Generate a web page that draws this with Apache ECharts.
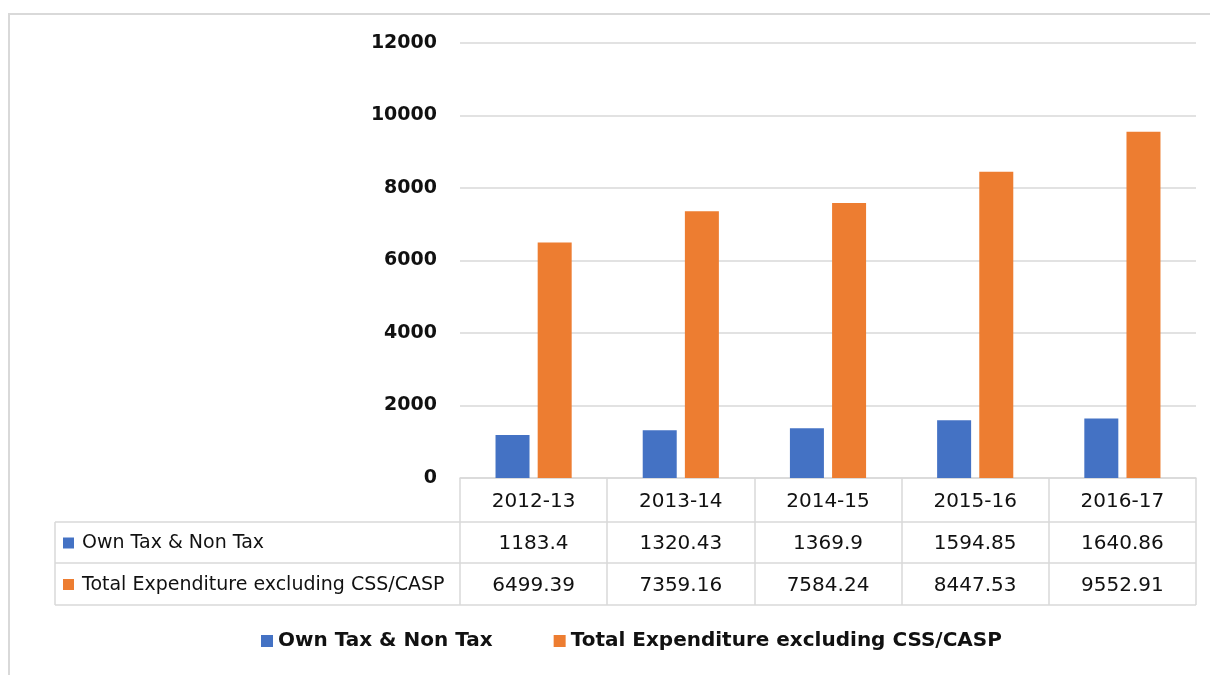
<!DOCTYPE html>
<html>
<head>
<meta charset="utf-8">
<title>Own Tax & Non Tax vs Total Expenditure</title>
<script src="https://cdn.jsdelivr.net/npm/echarts@6/dist/echarts.min.js"></script>
<style>
  html, body { margin: 0; padding: 0; background: #fff; }
  #chart { width: 1210px; height: 675px; }
</style>
</head>
<body>
<div id="chart"></div>
<script>
// data
var years = ['2012-13', '2013-14', '2014-15', '2015-16', '2016-17'];
var ownTax = [1183.4, 1320.43, 1369.9, 1594.85, 1640.86];
var totalExp = [6499.39, 7359.16, 7584.24, 8447.53, 9552.91];
var seriesNames = ['Own Tax & Non Tax', 'Total Expenditure excluding CSS/CASP'];
var colors = ['#4472C4', '#ED7D31'];

// layout
var gridLeft = 460, gridRight = 14, gridTop = 43, gridBottom = 197;
var axisY = 478, rowH = 42;
var rowsY = [522, 563, 605];
var tableLeft = 55;
var lineColor = '#d9d9d9';
var font = 'DejaVu Sans';

var myChart = echarts.init(document.getElementById('chart'));

// table lines + left column (legend keys)
var graphics = [
  { type: 'rect', shape: { x: 9, y: 14, width: 1400, height: 800 },
    style: { fill: 'none', stroke: lineColor, lineWidth: 2 }, silent: true }
];
rowsY.forEach(function (y) {
  graphics.push({ type: 'line', shape: { x1: tableLeft, y1: y, x2: 1196, y2: y },
    style: { stroke: lineColor, lineWidth: 1.5 }, silent: true });
});
graphics.push({ type: 'line', shape: { x1: tableLeft, y1: rowsY[0], x2: tableLeft, y2: rowsY[2] },
  style: { stroke: lineColor, lineWidth: 1.5 }, silent: true });
seriesNames.forEach(function (name, i) {
  var cy = (rowsY[i] + rowsY[i + 1]) / 2;
  graphics.push({ type: 'rect', shape: { x: 63, y: cy - 5, width: 11, height: 11 },
    style: { fill: colors[i] }, silent: true });
  graphics.push({ type: 'text', x: 82, y: cy + 1,
    style: { text: name, font: '19px "' + font + '"', fill: '#111', textVerticalAlign: 'middle' }, silent: true });
});

var option = {
  backgroundColor: '#fff',
  animation: false,
  color: colors,
  textStyle: { fontFamily: font },
  grid: { left: gridLeft, right: gridRight, top: gridTop, bottom: gridBottom },
  legend: {
    bottom: 19,
    left: 256,
    itemWidth: 12,
    itemHeight: 12,
    itemGap: 61,
    icon: 'rect',
    textStyle: { fontSize: 20, fontWeight: 'bold', color: '#111', fontFamily: font },
    data: seriesNames
  },
  xAxis: {
    type: 'category',
    data: years,
    axisLine: { show: true, lineStyle: { color: lineColor, width: 1.5 } },
    axisTick: { show: true, alignWithLabel: false, length: rowsY[2] - axisY,
      lineStyle: { color: lineColor, width: 1.5 } },
    axisLabel: {
      margin: 3,
      interval: 0,
      formatter: function (v, idx) {
        return v + '\n' + ownTax[idx] + '\n' + totalExp[idx];
      },
      lineHeight: rowH,
      fontSize: 20,
      color: '#111',
      fontFamily: font
    }
  },
  yAxis: {
    type: 'value',
    min: 0,
    max: 12000,
    interval: 2000,
    axisLine: { show: false },
    axisTick: { show: false },
    splitLine: { lineStyle: { color: lineColor, width: 1.5 } },
    axisLabel: { margin: 23, fontSize: 19, fontWeight: 'bold', color: '#111', fontFamily: font,
      formatter: function (v) { return String(v); } }
  },
  series: [
    { name: seriesNames[0], type: 'bar', data: ownTax, barWidth: 34, barGap: '24%' },
    { name: seriesNames[1], type: 'bar', data: totalExp, barWidth: 34, barGap: '24%' }
  ],
  graphic: graphics
};

myChart.setOption(option);
</script>
</body>
</html>
